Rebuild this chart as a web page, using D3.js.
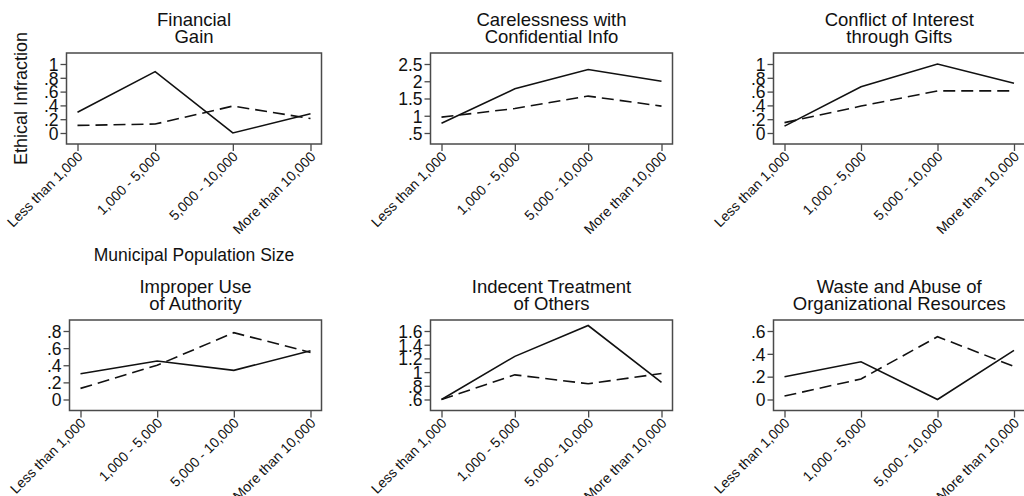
<!DOCTYPE html>
<html>
<head>
<meta charset="utf-8">
<script src="https://cdn.jsdelivr.net/npm/d3@7"></script>
<style>
  body { margin: 0; background: #fff; }
  svg { display: block; font-family: "Liberation Sans", Arial, Helvetica, sans-serif; }
</style>
</head>
<body>
<svg id="chart" width="1024" height="496"></svg>
<script>
// population size categories (x axis)
var categories = ["Less than 1,000", "1,000 - 5,000", "5,000 - 10,000", "More than 10,000"];

var panelTitles = [
  ["Financial", "Gain"],
  ["Carelessness with", "Confidential Info"],
  ["Conflict of Interest", "through Gifts"],
  ["Improper Use", "of Authority"],
  ["Indecent Treatment", "of Others"],
  ["Waste and Abuse of", "Organizational Resources"]
];

// solid line series, one row per panel
var solidValues = [
  [0.30, 0.89, 0.00, 0.28],
  [0.78, 1.78, 2.34, 2.00],
  [0.10, 0.67, 1.00, 0.72],
  [0.30, 0.45, 0.34, 0.57],
  [0.60, 1.23, 1.68, 0.85],
  [0.20, 0.33, 0.00, 0.43]
];

// dashed line series
var dashedValues = [
  [0.11, 0.13, 0.39, 0.21],
  [0.96, 1.21, 1.57, 1.28],
  [0.15, 0.39, 0.61, 0.61],
  [0.13, 0.40, 0.78, 0.55],
  [0.60, 0.96, 0.83, 0.98],
  [0.03, 0.18, 0.55, 0.29]
];

var yTickValues = [
  [0, 0.2, 0.4, 0.6, 0.8, 1],
  [0.5, 1, 1.5, 2, 2.5],
  [0, 0.2, 0.4, 0.6, 0.8, 1],
  [0, 0.2, 0.4, 0.6, 0.8],
  [0.6, 0.8, 1, 1.2, 1.4, 1.6],
  [0, 0.2, 0.4, 0.6]
];

var yTitle = "Ethical Infraction";
var xTitle = "Municipal Population Size";

// frame boxes for each panel
var frames = [
  {left: 66.5, right: 321.5, top: 53, bottom: 144},
  {left: 430.5, right: 672.5, top: 53, bottom: 144},
  {left: 773.5, right: 1025, top: 53, bottom: 144},
  {left: 69.5, right: 321.5, top: 320, bottom: 410.5},
  {left: 430.5, right: 672.5, top: 320, bottom: 410.5},
  {left: 773.5, right: 1025, top: 320, bottom: 410.5}
];

var svg = d3.select("#chart");
var frameColor = "#4a4a4a";
var inkColor = "#111";
var pad = 11;

var fmt = function(v) {
  return d3.format("")(v).replace(/^0\./, ".");
};

frames.forEach(function(f, i) {
  var g = svg.append("g");

  var x = d3.scalePoint()
      .domain(categories)
      .range([f.left + pad, f.right - pad]);

  var ticks = yTickValues[i];
  var y = d3.scaleLinear()
      .domain([ticks[0], ticks[ticks.length - 1]])
      .range([f.bottom - pad, f.top + pad]);

  // title, two lines
  g.append("text")
      .attr("x", (f.left + f.right) / 2)
      .attr("y", f.top - 27)
      .attr("text-anchor", "middle")
      .attr("font-size", 18.5)
      .attr("fill", inkColor)
      .selectAll("tspan")
      .data(panelTitles[i])
    .enter().append("tspan")
      .attr("x", (f.left + f.right) / 2)
      .attr("dy", function(d, k) { return k ? 17.3 : 0; })
      .text(function(d) { return d; });

  // y axis
  var ya = g.append("g")
      .attr("transform", "translate(" + f.left + ",0)")
      .call(d3.axisLeft(y).tickValues(ticks).tickFormat(fmt).tickSize(6).tickPadding(2));
  ya.select(".domain").remove();
  ya.selectAll("line").attr("stroke", frameColor).attr("stroke-width", 1.3);
  ya.selectAll("text")
      .attr("font-size", 17.5)
      .attr("font-family", "Liberation Sans, Arial, sans-serif")
      .attr("dy", "0.36em")
      .attr("fill", inkColor);

  // x axis
  var xa = g.append("g")
      .attr("transform", "translate(0," + f.bottom + ")")
      .call(d3.axisBottom(x).tickSize(7).tickFormat(""));
  xa.select(".domain").remove();
  xa.selectAll("line").attr("stroke", frameColor).attr("stroke-width", 1.3);
  xa.selectAll(".tick").append("text")
      .attr("transform", "translate(2,10) rotate(-45)")
      .attr("text-anchor", "end")
      .attr("dy", "0.35em")
      .attr("font-size", 14)
      .attr("font-family", "Liberation Sans, Arial, sans-serif")
      .attr("fill", inkColor)
      .text(function(d) { return d; });

  // plot frame
  g.append("rect")
      .attr("x", f.left)
      .attr("y", f.top)
      .attr("width", f.right - f.left)
      .attr("height", f.bottom - f.top)
      .attr("fill", "none")
      .attr("stroke", frameColor)
      .attr("stroke-width", 1.5);

  var line = d3.line()
      .x(function(d, k) { return x(categories[k]); })
      .y(function(d) { return y(d); });

  g.append("path")
      .datum(dashedValues[i])
      .attr("fill", "none")
      .attr("stroke", inkColor)
      .attr("stroke-width", 1.6)
      .attr("stroke-dasharray", "12,6")
      .attr("d", line);

  g.append("path")
      .datum(solidValues[i])
      .attr("fill", "none")
      .attr("stroke", inkColor)
      .attr("stroke-width", 1.6)
      .attr("d", line);

  // axis titles only on first panel
  if (i === 0) {
    svg.append("text")
        .attr("transform", "translate(27," + (f.top + f.bottom) / 2 + ") rotate(-90)")
        .attr("text-anchor", "middle")
        .attr("font-size", 18)
        .attr("fill", inkColor)
        .text(yTitle);

    svg.append("text")
        .attr("x", (f.left + f.right) / 2)
        .attr("y", 260.5)
        .attr("text-anchor", "middle")
        .attr("font-size", 17.5)
        .attr("fill", inkColor)
        .text(xTitle);
  }
});
</script>
</body>
</html>
